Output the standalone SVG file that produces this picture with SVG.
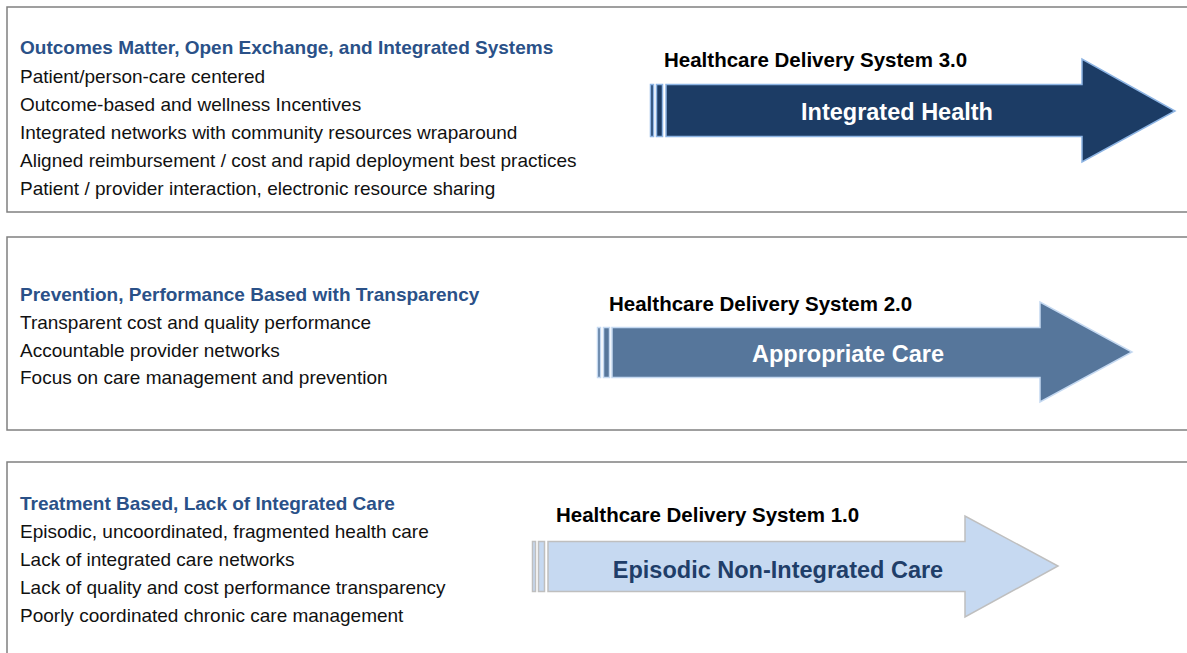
<svg xmlns="http://www.w3.org/2000/svg" width="1187" height="653" viewBox="0 0 1187 653">
<style>
.box{fill:#fff;stroke:#808080;stroke-width:1.5}
.title{font-family:"Liberation Sans",Arial,sans-serif;font-weight:bold;font-size:19px;fill:#2a5188}
.body{font-family:"Liberation Sans",Arial,sans-serif;font-size:19px;fill:#111}
.label{font-family:"Liberation Sans",Arial,sans-serif;font-weight:bold;font-size:20.5px;fill:#000}
.atext{font-family:"Liberation Sans",Arial,sans-serif;font-weight:bold;font-size:23.5px;text-anchor:middle}
.a1{fill:#1c3c65;stroke:#8db4e3;stroke-width:1.5}
.a2{fill:#56769b;stroke:#c5d9f1;stroke-width:1.5}
.a3{fill:#c6d9f1;stroke:#bfbfbf;stroke-width:1.5}
</style>
<rect width="1187" height="653" fill="#fff"/>
<g id="panel3">
<rect class="box" x="7" y="7" width="1200" height="205"/>
<text class="title" x="20" y="54">Outcomes Matter, Open Exchange, and Integrated Systems</text>
<text class="body" x="20" y="83">Patient/person-care centered</text>
<text class="body" x="20" y="111">Outcome-based and wellness Incentives</text>
<text class="body" x="20" y="139">Integrated networks with community resources wraparound</text>
<text class="body" x="20" y="167">Aligned reimbursement / cost and rapid deployment best practices</text>
<text class="body" x="20" y="195">Patient / provider interaction, electronic resource sharing</text>
</g>
<g id="panel2">
<rect class="box" x="7" y="237" width="1200" height="193"/>
<text class="title" x="20" y="301">Prevention, Performance Based with Transparency</text>
<text class="body" x="20" y="329">Transparent cost and quality performance</text>
<text class="body" x="20" y="357">Accountable provider networks</text>
<text class="body" x="20" y="384">Focus on care management and prevention</text>
</g>
<g id="panel1">
<rect class="box" x="7" y="462" width="1200" height="220"/>
<text class="title" x="20" y="510">Treatment Based, Lack of Integrated Care</text>
<text class="body" x="20" y="538">Episodic, uncoordinated, fragmented health care</text>
<text class="body" x="20" y="566">Lack of integrated care networks</text>
<text class="body" x="20" y="594">Lack of quality and cost performance transparency</text>
<text class="body" x="20" y="622">Poorly coordinated chronic care management</text>
</g>
<g id="arrow3">
<text class="label" x="664" y="67">Healthcare Delivery System 3.0</text>
<rect class="a1" x="650.5" y="84.5" width="3" height="52"/>
<rect class="a1" x="656.5" y="84.5" width="6" height="52"/>
<polygon class="a1" points="666,84.5 1082,84.5 1082,59 1175,111 1082,162 1082,136.5 666,136.5"/>
<text class="atext" x="897" y="120" fill="#fff">Integrated Health</text>
</g>
<g id="arrow2">
<text class="label" x="609" y="311">Healthcare Delivery System 2.0</text>
<rect class="a2" x="597.5" y="327.5" width="3" height="50"/>
<rect class="a2" x="603.5" y="327.5" width="6" height="50"/>
<polygon class="a2" points="612,327.5 1040,327.5 1040,302 1132,352 1040,402 1040,377.5 612,377.5"/>
<text class="atext" x="848" y="362" fill="#fff">Appropriate Care</text>
</g>
<g id="arrow1">
<text class="label" x="556" y="522">Healthcare Delivery System 1.0</text>
<rect class="a3" x="532.5" y="541.5" width="3" height="50"/>
<rect class="a3" x="538.5" y="541.5" width="6" height="50"/>
<polygon class="a3" points="548,541.5 965,541.5 965,516 1058,566 965,617 965,591.5 548,591.5"/>
<text class="atext" x="778" y="578" fill="#1f3e69">Episodic Non-Integrated Care</text>
</g>
<g id="connectors"/>
</svg>
